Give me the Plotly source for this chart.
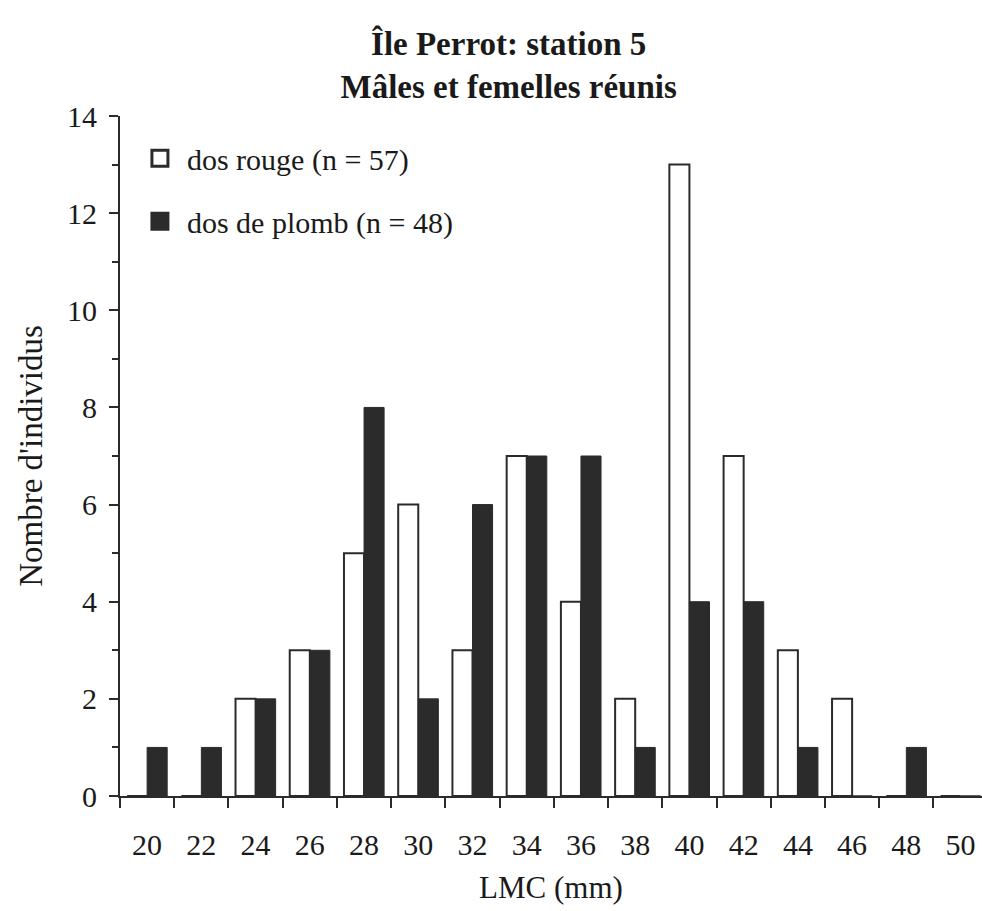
import plotly.graph_objects as go

# Classes de longueur museau-cloaque (mm) et effectifs par phénotype
lmc_classes = [20, 22, 24, 26, 28, 30, 32, 34, 36, 38, 40, 42, 44, 46, 48, 50]
dos_rouge = [0, 0, 2, 3, 5, 6, 3, 7, 4, 2, 13, 7, 3, 2, 0, 0]
dos_plomb = [1, 1, 2, 3, 8, 2, 6, 7, 7, 1, 4, 4, 1, 0, 1, 0]
y_ticks = [0, 2, 4, 6, 8, 10, 12, 14]

INK = "#2b2b2b"
TEXT = "#1a1a1a"
FONT = "Liberation Serif"
BAR_W = 0.74

# tick marks sit on the class boundaries, labels at class centres
boundaries = [c - 1 for c in lmc_classes]

fig = go.Figure()

fig.add_trace(go.Bar(
    x=lmc_classes, y=dos_rouge, width=BAR_W, offset=-BAR_W,
    marker=dict(color="white", line=dict(color=INK, width=2)),
    showlegend=False, legendgroup="rouge",
))
fig.add_trace(go.Bar(
    x=lmc_classes, y=dos_plomb, width=BAR_W, offset=0,
    marker=dict(color=INK, line=dict(color=INK, width=1)),
    showlegend=False, legendgroup="plomb",
))

# legend entries with larger square swatches
fig.add_trace(go.Scatter(
    x=[None], y=[None], mode="markers", legendgroup="rouge",
    name=f"dos rouge (n = {sum(dos_rouge)})",
    marker=dict(symbol="square", size=20, color="white", line=dict(color=INK, width=3)),
))
fig.add_trace(go.Scatter(
    x=[None], y=[None], mode="markers", legendgroup="plomb",
    name=f"dos de plomb (n = {sum(dos_plomb)})",
    marker=dict(symbol="square", size=20, color=INK, line=dict(color=INK, width=3)),
))

fig.update_layout(
    width=982, height=911,
    margin=dict(l=120, r=0, t=116, b=115),
    paper_bgcolor="white", plot_bgcolor="white",
    font=dict(family=FONT, size=30, color=TEXT),
    title=dict(
        text="<b>Île Perrot: station 5<br>Mâles et femelles réunis</b>",
        x=0.518, xref="container", xanchor="center",
        y=0.940, yref="container", yanchor="middle",
        font=dict(family=FONT, size=33, color=TEXT),
    ),
    barmode="overlay",
    showlegend=True,
    legend=dict(
        x=0.015, y=0.976, xanchor="left", yanchor="top",
        bgcolor="rgba(0,0,0,0)", borderwidth=0,
        font=dict(family=FONT, size=30, color=TEXT),
        itemwidth=44, traceorder="grouped", tracegroupgap=21,
    ),
    xaxis=dict(
        range=[19, 50.79],
        tickmode="array", tickvals=lmc_classes,
        ticktext=[str(c) for c in lmc_classes],
        ticks="", showline=True, linecolor=INK, linewidth=2,
        showgrid=False, zeroline=False, fixedrange=True,
        ticklabelstandoff=21,
        minor=dict(tickmode="array", tickvals=boundaries, ticks="outside",
                   ticklen=10, tickwidth=2, tickcolor=INK, showgrid=False),
        title=dict(text="LMC (mm)", standoff=16,
                   font=dict(family=FONT, size=31, color=TEXT)),
    ),
    yaxis=dict(
        range=[0, 14],
        tickmode="array", tickvals=y_ticks,
        ticks="outside", ticklen=9, tickwidth=2, tickcolor=INK,
        showline=True, linecolor=INK, linewidth=2,
        showgrid=False, zeroline=False, fixedrange=True,
        ticklabelstandoff=6,
        minor=dict(dtick=1, ticks="outside", ticklen=6, tickwidth=2,
                   tickcolor=INK, showgrid=False),
        title=dict(text="Nombre d'individus", standoff=14,
                   font=dict(family=FONT, size=33, color=TEXT)),
    ),
)

fig.write_html("out.html")
